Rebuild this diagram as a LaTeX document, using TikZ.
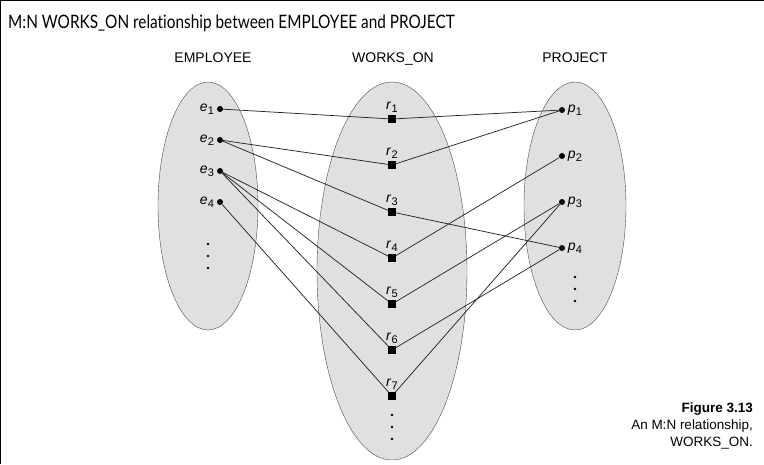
\documentclass[tikz,border=0pt]{standalone}
\usepackage{fontspec}
\setmainfont{Liberation Sans}
\newfontfamily\titlefont[Ligatures=NoCommon]{Lato}
\usetikzlibrary{shapes, arrows}
\tikzstyle{set} = [ellipse, draw=black!70, fill=black!12, inner sep=0pt]
\tikzstyle{member} = [circle, fill=black, inner sep=0pt, minimum size=6pt]
\tikzstyle{relship} = [rectangle, fill=black, inner sep=0pt, minimum size=7.5pt]
\tikzstyle{vdot} = [circle, fill=black, inner sep=0pt, minimum size=2.8pt]
\tikzstyle{link} = [black!85, line width=0.75pt]
\tikzstyle{head} = [anchor=base, font=\fontsize{14}{16}\selectfont]
\newcommand{\itemlab}[2]{\fontsize{14}{15}\selectfont\textit{#1}\kern0.3pt\raisebox{-3pt}{\fontsize{11}{12}\selectfont #2}}

\begin{document}
\begin{tikzpicture}[x=1pt, y=-1pt]
    \useasboundingbox (0,0) rectangle (764,464);
    \draw [line width=2pt] (0,464) -- (0,0) -- (764,0);

    % title and headers
    \node (title) [anchor=base west, inner sep=0pt, font=\titlefont\fontsize{18.5}{22}\selectfont] at (8,28) {\scalebox{0.83}[1]{M:N WORKS\_ON relationship between EMPLOYEE and PROJECT}};
    \node (emphead) [head] at (213,62) {EMPLOYEE};
    \node (wohead) [head] at (393,62) {WORKS\_ON};
    \node (projhead) [head] at (575,62) {PROJECT};

    % the three sets
    \node (emp) [set, minimum width=100pt, minimum height=248pt] at (208,206) {};
    \node (works) [set, minimum width=150pt, minimum height=378pt] at (392,271) {};
    \node (proj) [set, minimum width=102pt, minimum height=248pt] at (575,206) {};

    % EMPLOYEE members
    \node (e1) [member, label={[inner sep=2.5pt]left:\itemlab{e}{1}}] at (220,109) {};
    \node (e2) [member, label={[inner sep=2.5pt]left:\itemlab{e}{2}}] at (220,140) {};
    \node (e3) [member, label={[inner sep=2.5pt]left:\itemlab{e}{3}}] at (220,171) {};
    \node (e4) [member, label={[inner sep=2.5pt]left:\itemlab{e}{4}}] at (220,202) {};
    \node (ed1) [vdot] at (208,244) {};
    \node (ed2) [vdot] at (208,256) {};
    \node (ed3) [vdot] at (208,268) {};

    % WORKS_ON instances
    \node (r1) [relship, label={[inner sep=2pt]above:\itemlab{r}{1}}] at (392,119) {};
    \node (r2) [relship, label={[inner sep=2pt]above:\itemlab{r}{2}}] at (392,165) {};
    \node (r3) [relship, label={[inner sep=2pt]above:\itemlab{r}{3}}] at (392,212) {};
    \node (r4) [relship, label={[inner sep=2pt]above:\itemlab{r}{4}}] at (392,258) {};
    \node (r5) [relship, label={[inner sep=2pt]above:\itemlab{r}{5}}] at (392,304) {};
    \node (r6) [relship, label={[inner sep=2pt]above:\itemlab{r}{6}}] at (392,350) {};
    \node (r7) [relship, label={[inner sep=2pt]above:\itemlab{r}{7}}] at (392,396) {};
    \node (wd1) [vdot] at (392,415) {};
    \node (wd2) [vdot] at (392,427) {};
    \node (wd3) [vdot] at (392,439) {};

    % PROJECT members
    \node (p1) [member, label={[inner sep=2.5pt]right:\itemlab{p}{1}}] at (562,110) {};
    \node (p2) [member, label={[inner sep=2.5pt]right:\itemlab{p}{2}}] at (562,156) {};
    \node (p3) [member, label={[inner sep=2.5pt]right:\itemlab{p}{3}}] at (562,202) {};
    \node (p4) [member, label={[inner sep=2.5pt]right:\itemlab{p}{4}}] at (562,248) {};
    \node (pd1) [vdot] at (575,277) {};
    \node (pd2) [vdot] at (575,289) {};
    \node (pd3) [vdot] at (575,301) {};

    \draw [link] (e1) -- (r1) -- (p1);
    \draw [link] (e2) -- (r2) -- (p1);
    \draw [link] (e2) -- (r3) -- (p4);
    \draw [link] (e3) -- (r4) -- (p2);
    \draw [link] (e3) -- (r5) -- (p3);
    \draw [link] (e3) -- (r6) -- (p4);
    \draw [link] (e4) -- (r7) -- (p3);

    % caption
    \node (caption) [anchor=north east, align=right, inner sep=0pt, font=\fontsize{13.5}{17}\selectfont] at (753,403) {\textbf{Figure 3.13}\\An M:N relationship,\\WORKS\_ON.};
\end{tikzpicture}
\end{document}
